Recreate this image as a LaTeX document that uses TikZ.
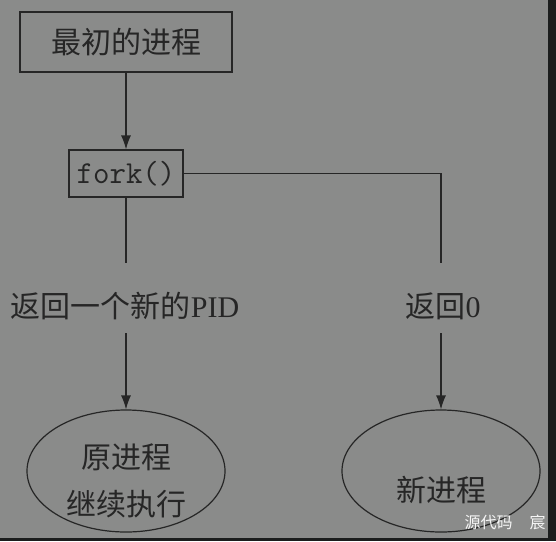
\documentclass[tikz,border=0pt]{standalone}
\usepackage{fontspec}
\setmainfont{Liberation Serif}
\newfontfamily\cjk{Noto Sans CJK SC}
\usepackage{xcolor}
\usepackage{tikz}
\usetikzlibrary{%
    shapes.geometric,%
    arrows.meta%
}
\definecolor{bggray}{RGB}{138,139,138}
\definecolor{edgegray}{RGB}{27,29,29}
\definecolor{inkgray}{RGB}{38,38,38}

\begin{document}
\begin{tikzpicture}[
    x=1pt,y=-1pt,
    txt/.style={font={\fontsize{30}{47}\selectfont\cjk},text=inkgray,
        inner sep=0pt,align=center},
    procbox/.style={draw=inkgray,line width=1.2pt,inner sep=0pt,
        minimum width=212pt,minimum height=60pt},
    forkbox/.style={procbox,text=inkgray,minimum width=114pt,minimum height=47pt,
        font={\fontsize{32}{34}\selectfont\ttfamily}},
    procell/.style={draw=inkgray,line width=1.2pt,ellipse,inner sep=0pt,
        minimum width=198pt,minimum height=122pt},
    flow/.style={draw=inkgray,line width=1.2pt},
    arrow/.style={flow,-{Latex[length=14pt,width=10pt]}},
    wmark/.style={font={\fontsize{16}{18}\selectfont\cjk},text=white!92!gray,inner sep=0pt},
    ]
    \useasboundingbox (0,0) rectangle (556,541);
    % background and dark borders
    \fill[bggray] (0,0) rectangle (556,541);
    \fill[edgegray] (548,0) rectangle (556,541);
    \fill[edgegray] (0,538) rectangle (556,541);

    % processes
    \node[procbox,txt] (init) at (126,42) {最初的进程};
    \node[forkbox] (fork) at (126,173.5) {fork()};
    \node[procell] (parent) at (126,471) {};
    \node[procell] (child) at (441,471) {};
    \node[txt] (parenttxt) at (126,481) {原进程\\继续执行};
    \node[txt] (childtxt) at (441,490) {新进程};

    % return values
    \node[txt] (pidlbl) at (125,306) {返回一个新的{\rmfamily PID}};
    \node[txt] (zerolbl) at (443,306) {返回{\rmfamily 0}};
    \coordinate (pidtop) at (126,263);
    \coordinate (pidbot) at (126,333);
    \coordinate (zerotop) at (441,263);
    \coordinate (zerobot) at (441,333);

    % connectors
    \draw[arrow] (init) -- (fork);
    \draw[flow] (fork) -- (pidtop);
    \draw[flow] (fork.east) -| (zerotop);
    \draw[arrow] (pidbot) -- (parent);
    \draw[arrow] (zerobot) -- (child);

    % watermark
    \node[wmark] (wm) at (505,522) {源代码\hspace{17pt}宸};
\end{tikzpicture}
\end{document}
